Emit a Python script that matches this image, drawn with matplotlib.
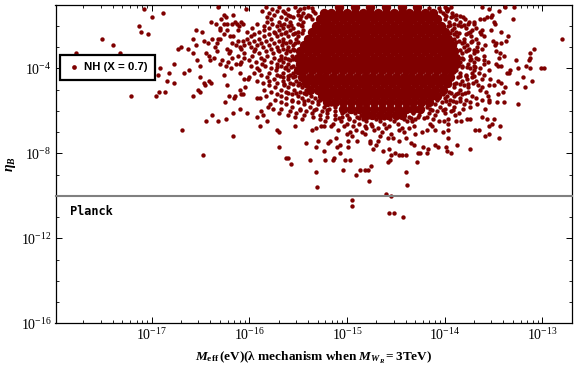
import matplotlib
matplotlib.use("Agg")
import matplotlib.pyplot as plt
import matplotlib.ticker as mticker
from matplotlib.lines import Line2D

plt.rcParams.update({
    "font.family": ["Liberation Serif"],
    "mathtext.fontset": "custom",
    "mathtext.rm": "Liberation Serif:bold",
    "mathtext.it": "Liberation Serif:italic:bold",
    "mathtext.bf": "Liberation Serif:bold",
    "mathtext.default": "rm",
})

COLOR = "#7f0000"
planck_eta = 1e-10

# Visually estimated log10(eta_B) rows with the log10(M_eff) values read on each row.
row_eta = [-1.1,-1.2,-1.3,-1.4,-1.5,-1.6,-1.7,-1.8,-1.9,-2.0,
           -2.1,-2.2,-2.3,-2.4,-2.5,-2.6,-2.7,-2.8,-2.9,-3.0,
           -3.1,-3.2,-3.3,-3.4,-3.5,-3.6,-3.7,-3.8,-3.9,-4.0,
           -4.1,-4.2,-4.3,-4.4,-4.5,-4.6,-4.7,-4.8,-4.9,-5.0,
           -5.1,-5.2,-5.3,-5.4,-5.5,-5.6,-5.7,-5.8,-5.9,-6.0,
           -6.1,-6.2,-6.3,-6.4,-6.5,-6.6,-6.7,-6.8,-6.9,-7.0,
           -7.1,-7.2,-7.3,-7.4,-7.5,-7.6,-7.7,-7.8,-7.9,-8.0,
           -8.1,-8.2,-8.3,-8.4,-8.5,-8.6,-8.8,-8.9,-9.0,-9.3,
           -9.5,-9.6,-9.9,-10.0,-10.2,-10.5,-10.8,-11.0]
row_meff = [
 [-16.32,-15.83,-15.7,-15.53,-15.4,-14.0,-13.93,-13.62,-13.38,-13.29],
 [-17.08,-16.03,-15.77,-15.6,-15.48,-13.97,-13.55],
 [-15.87,-15.72,-15.65,-15.5,-15.35,-14.05,-13.98,-13.44],
 [-16.88,-15.8,-15.63,-15.45,-15.33,-14.02,-13.92],
 [-16.26,-16.17,-15.75,-15.6,-15.5,-15.4,-14.0,-13.88,-13.51],
 [-17.0,-16.24,-15.82,-15.68,-15.55,-15.42,-13.93,-13.81,-13.57,-13.52],
 [-16.29,-15.78,-15.62,-15.48,-15.36,-14.0,-13.88,-13.79,-13.64,-13.6,-13.3],
 [-16.39,-16.15,-16.08,-15.82,-15.7,-15.58,-15.45,-13.95,-13.84,-13.75,-13.7,-13.49],
 [-16.34,-16.26,-16.23,-16.18,-16.13,-16.06,-15.92,-15.77,-15.64,-15.5,-13.9,-13.76,-13.7,-13.48],
 [-17.13,-16.11,-15.85,-15.72,-15.6,-15.46,-13.97,-13.83],
 [-16.3,-15.97,-15.8,-15.65,-15.55,-13.9,-13.78,-13.68],
 [-16.55,-16.3,-16.23,-16.12,-15.85,-15.7,-15.58,-15.45,-13.92,-13.72,-13.62,-13.52],
 [-17.11,-16.48,-16.02,-15.9,-15.75,-15.62,-15.5,-13.88,-13.74,-13.64,-13.42],
 [-17.04,-16.26,-15.95,-15.8,-15.68,-15.55,-13.9,-13.78,-13.63],
 [-16.2,-16.17,-15.98,-15.85,-15.72,-15.6,-15.5,-13.87,-13.73,-13.6,-13.35],
 [-17.51,-16.58,-16.38,-16.32,-16.3,-16.02,-15.9,-15.78,-15.65,-15.52,-13.9,-13.8,-13.68,-12.8],
 [-16.46,-16.12,-16.06,-15.95,-15.83,-15.7,-15.58,-13.85,-13.72,-13.5,-13.37],
 [-16.42,-16.33,-16.18,-16.0,-15.88,-15.75,-15.62,-15.53,-13.82,-13.66,-13.47,-13.42],
 [-17.4,-16.55,-16.14,-16.05,-15.92,-15.8,-15.67,-15.55,-13.77,-13.59,-13.48],
 [-16.7,-16.35,-16.1,-15.98,-15.86,-15.72,-15.6,-13.8,-13.67],
 [-16.73,-16.63,-16.23,-16.08,-15.94,-15.78,-15.65,-15.55,-13.75,-13.62,-13.08],
 [-16.33,-16.2,-15.95,-15.83,-15.7,-15.58,-13.78,-13.67,-13.47],
 [-17.78,-17.32,-16.58,-16.44,-16.21,-16.05,-15.9,-15.76,-15.62,-13.82,-13.7,-13.43,-13.13],
 [-16.41,-16.12,-15.97,-15.82,-15.68,-15.56,-13.74,-13.6,-13.39],
 [-16.36,-16.18,-16.05,-15.88,-15.75,-15.63,-13.82,-13.68,-13.44,-13.12],
 [-16.54,-16.4,-16.28,-16.0,-15.85,-15.7,-15.58,-13.74,-13.6,-13.27,-13.14],
 [-16.22,-16.08,-15.93,-15.78,-15.65,-13.84,-13.7,-13.56],
 [-16.77,-16.3,-16.14,-16.1,-15.87,-15.72,-15.6,-13.76,-13.6,-13.47],
 [-16.51,-16.24,-15.98,-15.84,-15.68,-15.55,-13.82,-13.7,-13.42,-13.45,-13.17],
 [-16.91,-16.19,-15.92,-15.78,-15.63,-13.74,-13.64,-13.25,-13.12,-13.01,-12.98],
 [-16.62,-15.9,-15.73,-15.6,-13.88,-13.7,-13.55,-13.33],
 [-16.82,-16.67,-16.1,-15.95,-15.8,-15.66,-15.55,-13.84,-13.72,-13.65,-13.36,-13.34],
 [-16.94,-16.26,-15.88,-15.72,-15.58,-13.78,-13.6],
 [-16.51,-16.0,-15.82,-15.66,-15.55,-13.86,-13.72,-13.2],
 [-16.05,-16.01,-15.75,-15.6,-13.77,-13.62,-13.53],
 [-16.84,-16.41,-15.92,-15.8,-15.66,-15.52,-13.82,-13.68,-13.45,-13.1],
 [-16.77,-16.46,-16.39,-15.86,-15.72,-15.58,-15.49,-13.88,-13.71,-13.42,-13.26],
 [-16.45,-16.23,-15.8,-15.64,-15.5,-13.95,-13.8,-13.66,-13.55,-13.49],
 [-16.04,-15.74,-15.6,-15.46,-13.9,-13.76,-13.62,-13.38,-13.18],
 [-16.53,-16.1,-15.85,-15.68,-15.54,-15.42,-13.84,-13.64],
 [-16.92,-16.86,-16.5,-15.78,-15.62,-15.48,-13.95,-13.76,-13.58,-13.4],
 [-16.08,-16.06,-15.72,-15.56,-15.42,-14.02,-13.88,-13.82,-13.45],
 [-17.21,-16.96,-16.58,-16.21,-16.15,-15.83,-15.68,-15.5,-15.37,-13.98,-13.9,-13.72,-13.56],
 [-16.16,-15.92,-15.89,-15.62,-15.46,-15.33,-14.0,-13.84,-13.68],
 [-15.74,-15.56,-15.4,-15.28,-14.08,-13.94,-13.78,-13.62,-13.54],
 [-16.25,-15.68,-15.5,-15.36,-15.22,-14.03,-13.88,-13.74,-13.55,-13.46,-13.39],
 [-15.79,-15.62,-15.44,-15.3,-15.16,-14.1,-13.95,-13.8,-13.67,-13.25],
 [-15.81,-15.56,-15.38,-15.24,-15.12,-14.18,-14.05,-13.9,-13.74],
 [-16.1,-15.76,-15.68,-15.48,-15.32,-15.18,-15.03,-14.3,-14.15,-14.0,-13.81,-13.59],
 [-15.88,-15.58,-15.42,-15.26,-15.12,-14.98,-14.38,-14.24,-14.08,-13.93],
 [-16.02,-16.17,-15.7,-15.52,-15.36,-15.2,-15.05,-14.92,-14.78,-14.46,-14.32,-14.16,-14.0,-13.85],
 [-16.38,-15.86,-15.6,-15.44,-15.28,-15.12,-15.0,-14.86,-14.72,-14.58,-14.42,-14.26,-14.1,-13.89],
 [-15.92,-15.53,-15.35,-15.2,-15.05,-14.9,-14.78,-14.64,-14.5,-14.36,-14.27,-14.18,-13.62],
 [-16.24,-15.46,-15.28,-15.12,-14.98,-14.84,-14.7,-14.56,-14.42,-14.3,-14.12,-13.96,-13.77,-13.74,-13.57,-13.49],
 [-16.44,-15.82,-16.32,-15.22,-15.06,-14.93,-14.8,-14.66,-14.52,-14.38,-14.33,-14.06,-14.01,-13.88,-13.83],
 [-15.14,-15.0,-14.88,-14.75,-14.62,-14.48,-14.15,-13.96,-13.51],
 [-15.89,-15.53,-15.27,-15.23,-15.16,-15.03,-14.94,-14.82,-14.74,-14.57,-14.31,-14.13,-13.54,-13.43],
 [-15.32,-14.8,-14.68,-14.6,-14.44,-14.36],
 [-16.69,-15.72,-15.36,-15.09,-14.91,-14.72,-14.47,-14.18,-14.1,-13.96,-13.69,-13.65],
 [-15.7,-14.97,-14.85,-14.64,-14.42,-14.23,-14.02],
 [-15.0,-14.82,-14.55,-14.3,-13.54],
 [-16.17,-14.95,-14.66,-13.59],
 [-15.11,-14.58,-14.53,-14.4,-13.96,-13.44],
 [-15.3,-15.17,-14.99,-14.9,-14.76,-14.68,-14.47],
 [-15.42,-15.19,-14.34,-14.76],
 [-15.07,-14.7,-14.31,-14.1,-13.87],
 [-15.7,-15.32,-15.1,-14.99,-14.22,-14.07,-13.99],
 [-14.73,-14.57,-14.17,-13.74],
 [-15.23,-14.63,-13.98],
 [-15.07,-14.51,-14.27,-14.18,-14.25,-13.93],
 [-16.47,-14.55,-14.47,-14.44,-14.4],
 [-15.62,-15.6,-15.13],
 [-15.38,-15.22,-15.14,-15.02,-14.97,-14.56],
 [-14.58,-14.28],
 [-15.57],
 [-14.75],
 [-15.04,-14.78,-14.81,-14.87],
 [-15.32,-14.39],
 [-14.91],
 [-14.77],
 [-14.38],
 [-15.31],
 [-14.6],
 [-14.55],
 [-14.95],
 [-14.95],
 [-14.57,-14.52],
 [-14.43],
]

# Dense flanks just outside the solid centre, estimated by eye.
flank_eta = [-1.15,-1.55,-1.95,-2.35,-2.75,-3.15,-3.55,-3.95,-4.35,-4.75,-5.15,-5.55,-5.95,-6.35]
flank_meff = [
 [-15.44,-15.36,-14.16,-14.06,-13.99],
 [-15.58,-15.47,-15.38,-13.99,-13.91,-13.84],
 [-15.68,-15.57,-15.47,-13.94,-13.86,-13.8],
 [-15.74,-15.63,-15.53,-15.46,-13.94,-13.85,-13.76],
 [-15.66,-15.58,-15.5,-13.88,-13.8,-13.73],
 [-15.71,-15.61,-15.54,-13.84,-13.76,-13.7],
 [-15.68,-15.6,-15.55,-13.81,-13.73,-13.66],
 [-15.72,-15.62,-15.57,-13.82,-13.77,-13.69],
 [-15.69,-15.6,-15.53,-13.84,-13.78,-13.7],
 [-15.64,-15.55,-15.48,-13.9,-13.84,-13.76],
 [-15.6,-15.52,-15.44,-13.93,-13.86,-13.79],
 [-15.56,-15.44,-15.3,-13.99,-13.91,-13.84],
 [-15.48,-15.34,-15.2,-14.13,-14.02,-13.91],
 [-15.08,-14.98,-14.88,-14.8,-14.62,-14.5,-14.34,-14.21],
]

# Solid centre of the cloud: individual dots cannot be read there, so it is
# approximated by fewer, larger markers at estimated positions.
core_eta = [-1.1,-1.4,-1.7,-2.0,-2.3,-2.6,-2.9,-3.2,-3.5,-3.8,-4.1,-4.4,-4.7,-5.0,-5.3,-5.6,-5.9,-6.2]
core_meff = [
 [-15.08,-14.92,-14.76,-14.6,-14.44,-14.28],
 [-15.24,-15.16,-15.08,-15.0,-14.92,-14.84,-14.76,-14.68,-14.6,-14.52,-14.44,-14.36,-14.28,-14.2,-14.12],
 [-15.28,-15.2,-15.12,-15.04,-14.96,-14.88,-14.8,-14.72,-14.64,-14.56,-14.48,-14.4,-14.32,-14.24,-14.16,-14.08],
 [-15.32,-15.24,-15.16,-15.08,-15.0,-14.92,-14.84,-14.76,-14.68,-14.6,-14.52,-14.44,-14.36,-14.28,-14.2,-14.12,-14.04],
 [-15.36,-15.28,-15.2,-15.12,-15.04,-14.96,-14.88,-14.8,-14.72,-14.64,-14.56,-14.48,-14.4,-14.32,-14.24,-14.16,-14.08,-14.0],
 [-15.4,-15.32,-15.24,-15.16,-15.08,-15.0,-14.92,-14.84,-14.76,-14.68,-14.6,-14.52,-14.44,-14.36,-14.28,-14.2,-14.12,-14.04,-13.96],
 [-15.44,-15.36,-15.28,-15.2,-15.12,-15.04,-14.96,-14.88,-14.8,-14.72,-14.64,-14.56,-14.48,-14.4,-14.32,-14.24,-14.16,-14.08,-14.0,-13.92],
 [-15.48,-15.4,-15.32,-15.24,-15.16,-15.08,-15.0,-14.92,-14.84,-14.76,-14.68,-14.6,-14.52,-14.44,-14.36,-14.28,-14.2,-14.12,-14.04,-13.96,-13.9],
 [-15.5,-15.44,-15.36,-15.28,-15.2,-15.12,-15.04,-14.96,-14.88,-14.8,-14.72,-14.64,-14.56,-14.48,-14.4,-14.32,-14.24,-14.16,-14.08,-14.0,-13.92,-13.88],
 [-15.48,-15.4,-15.32,-15.24,-15.16,-15.08,-15.0,-14.92,-14.84,-14.76,-14.68,-14.6,-14.52,-14.44,-14.36,-14.28,-14.2,-14.12,-14.04,-13.96,-13.88],
 [-15.5,-15.44,-15.36,-15.28,-15.2,-15.12,-15.04,-14.96,-14.88,-14.8,-14.72,-14.64,-14.56,-14.48,-14.4,-14.32,-14.24,-14.16,-14.08,-14.0,-13.92],
 [-15.46,-15.38,-15.3,-15.22,-15.14,-15.06,-14.98,-14.9,-14.82,-14.74,-14.66,-14.58,-14.5,-14.42,-14.34,-14.26,-14.18,-14.1,-14.02,-13.94],
 [-15.42,-15.34,-15.26,-15.18,-15.1,-15.02,-14.94,-14.86,-14.78,-14.7,-14.62,-14.54,-14.46,-14.38,-14.3,-14.22,-14.14,-14.06,-13.98],
 [-15.38,-15.3,-15.22,-15.14,-15.06,-14.98,-14.9,-14.82,-14.74,-14.66,-14.58,-14.5,-14.42,-14.34,-14.26,-14.18,-14.1,-14.02],
 [-15.26,-15.18,-15.1,-15.02,-14.94,-14.86,-14.78,-14.7,-14.62,-14.54,-14.46,-14.38,-14.3,-14.22,-14.14,-14.08],
 [-15.2,-15.12,-15.04,-14.96,-14.88,-14.8,-14.72,-14.64,-14.56,-14.48,-14.4,-14.32,-14.24,-14.16],
 [-15.04,-14.96,-14.88,-14.8,-14.72,-14.64,-14.56,-14.48,-14.4,-14.32,-14.25],
 [-14.82,-14.74,-14.66,-14.58,-14.5,-14.44],
]

xtick_exps = [-17, -16, -15, -14, -13]
ytick_exps = [-16, -12, -8, -4]

fig = plt.figure(figsize=(5.76, 3.67), dpi=100)
ax = fig.add_axes([55.5/576, 1-323.3/367, 516/576, 318.8/367])
ax.set_xscale("log")
ax.set_yscale("log")
ax.set_xlim(10**-17.985, 10**-12.70)
ax.set_ylim(1e-16, 10**-1.02)

for ly, xs in zip(row_eta + flank_eta, row_meff + flank_meff):
    ax.scatter([10**v for v in xs], [10**ly]*len(xs), s=10, color=COLOR, linewidths=0, zorder=3)
for ly, xs in zip(core_eta, core_meff):
    ax.scatter([10**v for v in xs], [10**ly]*len(xs), s=46, color=COLOR, linewidths=0, zorder=3)

ax.axhline(planck_eta, color="#808080", lw=1.5, zorder=4, clip_on=False)
ax.text(10**-17.84, 10**-10.72, "Planck", family="DejaVu Sans Mono", weight="bold",
        fontsize=8.6, va="center", ha="left", color="black")

ax.set_xticks([10.0**e for e in xtick_exps])
ax.set_yticks([10.0**e for e in ytick_exps])
ax.set_yticks([10.0**e for e in range(-16, 0) if e not in ytick_exps], minor=True)
ax.xaxis.set_minor_locator(mticker.LogLocator(base=10, subs=range(2, 10), numticks=12))
ax.xaxis.set_minor_formatter(mticker.NullFormatter())
ax.yaxis.set_minor_formatter(mticker.NullFormatter())
ax.tick_params(which="major", direction="in", top=True, right=True, length=4.2, width=0.7,
               labelsize=10, pad=3)
ax.tick_params(which="minor", direction="in", top=True, right=True, length=2.3, width=0.6)
for s in ax.spines.values():
    s.set_linewidth(0.9)

ax.set_xlabel(r"$\mathit{M}_{\mathrm{eff}}\,(\mathrm{eV})(\lambda\ \mathrm{mechanism\ when}\ \mathit{M}_{\mathit{W}_{\mathit{R}}}=\mathrm{3TeV})$",
              fontsize=9.5, labelpad=5)
ax.set_ylabel(r"$\mathit{\eta}_{\mathit{B}}$", fontsize=10, labelpad=2)

handle = Line2D([], [], ls="", marker="o", ms=3.4, color=COLOR, mew=0)
leg = ax.legend([handle], ["NH (X = 0.7)"], loc="center left",
                bbox_to_anchor=((60-55.5)/516, (323.3-67.5)/318.8), borderaxespad=0,
                fancybox=False, framealpha=1, edgecolor="black", handletextpad=0.2,
                handlelength=1.3, borderpad=0.62,
                prop={"family": "Liberation Sans", "weight": "bold", "size": 8.2})
leg.get_frame().set_linewidth(1.6)
leg.set_zorder(6)

fig.savefig("out.png", dpi=100)
